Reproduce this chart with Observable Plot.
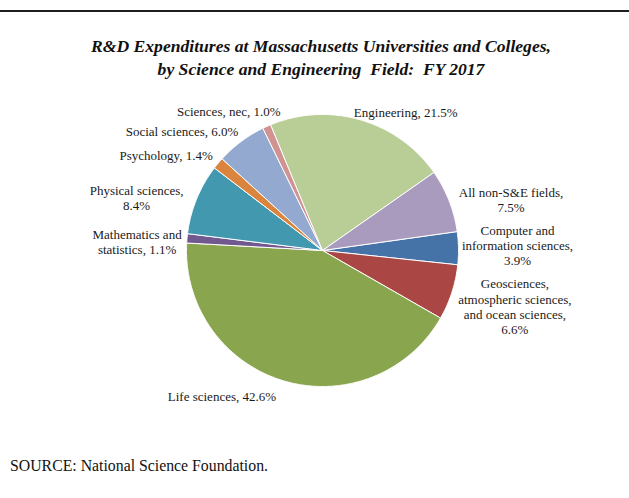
<!DOCTYPE html>
<html>
<head>
<meta charset="utf-8">
<script src="https://cdn.jsdelivr.net/npm/d3@7"></script>
<script src="https://cdn.jsdelivr.net/npm/@observablehq/plot@0.6"></script>
<style>
  html, body { margin: 0; padding: 0; background: #fff; overflow: hidden; }
  #page { position: relative; width: 629px; height: 498px; background: #fff; }
  #rule { position: absolute; top: 10px; left: 0; width: 629px; height: 2px; background: #1e1e1e; }
  #title { position: absolute; top: 35px; left: 7px; width: 628px; text-align: center;
    font: italic bold 17.6px/23px "Liberation Serif", "Times New Roman", serif; color: #111; margin: 0; }
  #chart { position: absolute; top: 90px; left: 0; }
  #caption { position: absolute; top: 457px; left: 10px; font: 15.8px/18px "Liberation Serif", "Times New Roman", serif; color: #111; margin: 0; }
</style>
</head>
<body>
<div id="page">
  <div id="rule"></div>
  <h2 id="title">R&amp;D Expenditures at Massachusetts Universities and Colleges,<br>by Science and Engineering&nbsp; Field:&nbsp; FY 2017</h2>
  <div id="chart"></div>
  <p id="caption">SOURCE: National Science Foundation.</p>
</div>
<script>
// ---- data (in the order Excel drew them, clockwise) ----
const categories = [
  "Computer and information sciences",
  "Geosciences, atmospheric sciences, and ocean sciences",
  "Life sciences",
  "Mathematics and statistics",
  "Physical sciences",
  "Psychology",
  "Social sciences",
  "Sciences, nec",
  "Engineering",
  "All non-S&E fields"
];
const shares = [3.9, 6.6, 42.6, 1.1, 8.4, 1.4, 6.0, 1.0, 21.5, 7.5];
const labelTexts = [
  "Computer and\ninformation sciences,\n3.9%",
  "Geosciences,\natmospheric sciences,\nand ocean sciences,\n6.6%",
  "Life sciences, 42.6%",
  "Mathematics and\nstatistics, 1.1%",
  "Physical sciences,\n8.4%",
  "Psychology, 1.4%",
  "Social sciences, 6.0%",
  "Sciences, nec, 1.0%",
  "Engineering, 21.5%",
  "All non-S&E fields,\n7.5%"
];
const colors = ["#4572A7", "#AA4643", "#89A54E", "#71588F", "#4198AF", "#DB843D", "#93A9CF", "#D19392", "#B9CD96", "#A99BBD"];

// ---- layout (not data) ----
const firstSliceAngle = 82; // degrees clockwise from 12 o'clock
const radiusPx = 136;
// label nudges from the slice's outer edge at mid-angle, in pixels [dx, dy]
const labelNudge = [[59, -3], [63, 14], [-62, 15], [-50, 3], [-60, -1], [-52, -8], [-59, -10], [-38, -15], [45, -8], [62, -1]];

const a0 = firstSliceAngle * Math.PI / 180;
const arcs = d3.pie().sort(null).startAngle(a0).endAngle(a0 + 2 * Math.PI)(shares);

const slicePts = [];
arcs.forEach((a, i) => {
  const cat = categories[i];
  slicePts.push({cat, x: 0, y: 0});
  const n = Math.max(2, Math.ceil((a.endAngle - a.startAngle) / (Math.PI / 360)));
  for (let k = 0; k <= n; k++) {
    const t = a.startAngle + (a.endAngle - a.startAngle) * k / n;
    slicePts.push({cat, x: Math.sin(t), y: Math.cos(t)});
  }
  slicePts.push({cat, x: 0, y: 0});
});

const labels = arcs.map((a, i) => {
  const m = (a.startAngle + a.endAngle) / 2;
  return {
    text: labelTexts[i],
    x: Math.sin(m) + labelNudge[i][0] / radiusPx,
    y: Math.cos(m) - labelNudge[i][1] / radiusPx
  };
});

const chart = Plot.plot({
  width: 629,
  height: 320,
  marginLeft: 186,
  marginRight: 171,
  marginTop: 24,
  marginBottom: 24,
  x: {domain: [-1, 1], axis: null},
  y: {domain: [-1, 1], axis: null},
  color: {domain: categories, range: colors},
  style: {background: "transparent", overflow: "visible"},
  marks: [
    Plot.line(slicePts, {x: "x", y: "y", z: "cat", fill: "cat", stroke: "white", strokeWidth: 1, strokeLinejoin: "round"}),
    Plot.text(labels, {x: "x", y: "y", text: "text", textAnchor: "middle", lineAnchor: "middle",
      lineHeight: 1.17, fontSize: 13, fontFamily: "Liberation Serif", fill: "#1a1a1a"})
  ]
});
document.getElementById("chart").appendChild(chart);
</script>
</body>
</html>
